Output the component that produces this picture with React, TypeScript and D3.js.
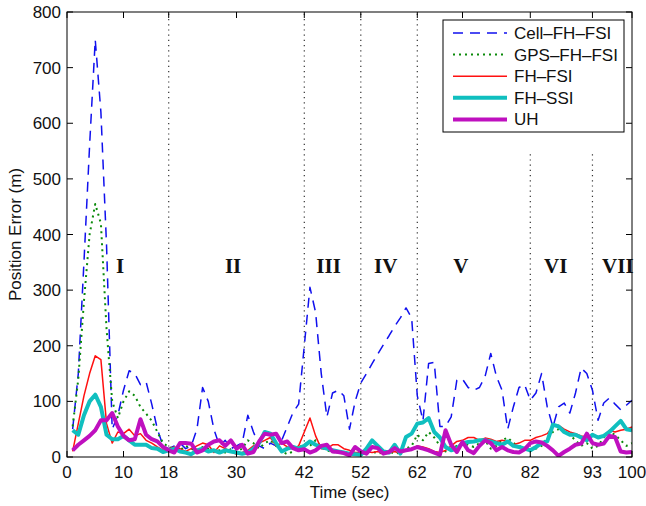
import React from "react";
import * as d3 from "d3";

const time = d3.range(1, 101);

const cellFHFSI = [50,150,350,560,750,620,380,50,75,120,155,150,130,135,95,50,20,15,20,25,15,20,50,125,100,50,20,30,15,20,25,75,45,20,15,25,20,30,55,80,95,200,305,260,150,72,115,120,110,50,100,133,150,168,185,202,218,235,250,268,250,110,65,168,170,55,55,72,138,140,125,120,125,145,186,145,120,50,90,125,130,102,115,150,90,54,90,97,79,115,160,150,120,66,97,106,95,85,93,102];
const gpsFHFSI = [55,140,280,400,455,420,230,100,70,100,118,110,90,78,65,45,25,18,15,12,20,15,10,18,15,10,12,8,14,10,15,30,25,15,25,30,20,10,5,10,15,25,20,30,18,12,8,10,5,8,6,5,8,10,6,8,10,6,8,15,20,40,30,45,35,20,10,15,20,25,22,18,25,30,15,20,30,35,25,20,15,10,15,20,35,45,50,45,40,30,20,25,15,20,35,45,40,30,20,25];
const fhFSI = [10,60,110,150,182,175,60,25,45,42,50,38,42,30,25,18,12,15,18,15,10,15,20,25,22,8,20,15,10,5,8,12,20,25,30,35,20,25,18,15,20,45,70,38,15,15,22,22,15,12,8,8,10,8,10,5,8,10,6,12,15,20,18,15,10,8,12,20,28,30,35,35,30,34,32,28,30,28,22,25,30,30,35,38,42,55,57,50,45,42,38,36,38,36,38,48,45,48,50,54];
const fhSSI = [48,40,75,100,112,90,40,32,32,38,30,22,22,22,16,15,9,12,15,10,8,5,12,15,10,12,8,12,10,8,6,8,15,25,45,42,25,10,15,18,15,20,28,22,18,15,12,10,8,6,5,4,15,30,20,10,8,22,6,36,42,60,62,70,45,35,18,12,15,25,27,28,30,30,28,25,22,28,20,18,15,12,18,25,28,58,55,45,40,40,35,30,40,35,38,45,55,65,50,48];
const uh = [12,22,30,38,48,66,66,79,55,38,30,32,68,40,32,28,18,12,8,25,25,24,8,12,22,28,30,20,30,15,22,6,9,28,42,40,42,25,28,16,12,14,8,12,20,22,10,9,7,3,18,10,6,18,16,6,9,16,10,12,14,18,15,12,8,4,48,22,9,27,12,7,20,30,25,12,18,12,9,8,14,25,28,26,20,12,2,9,15,22,24,42,25,22,24,38,36,10,8,9];

const seriesNames = ["Cell\u2013FH\u2013FSI", "GPS\u2013FH\u2013FSI", "FH\u2013FSI", "FH\u2013SSI", "UH"];
const seriesValues = [cellFHFSI, gpsFHFSI, fhFSI, fhSSI, uh];
const seriesColors = ["#1010ee", "#0a8a0a", "#ff1010", "#10bfbf", "#bf10bf"];
const seriesWidths = [1.5, 2, 1.5, 4, 4];
const seriesDash = ["10,7", "2,4", null, null, null];

const xTicks = [0, 10, 18, 30, 42, 52, 62, 70, 82, 93, 100];
const yTicks = [0, 100, 200, 300, 400, 500, 600, 700, 800];

const boundaryFull = [18, 42, 52, 62];
const boundaryPartial = [82, 93];
const partialTop = 546;

const phaseLabels = ["I", "II", "III", "IV", "V", "VI", "VII"];
const phaseCenters = [9.4, 29.4, 46.3, 56.4, 69.7, 86.5, 97.5];
const phaseLabelValue = 330;

const W = 646, H = 506;
const M = { left: 67, right: 14, top: 12, bottom: 49 };

export default function App() {
  const x = d3.scaleLinear().domain([0, 100]).range([M.left, W - M.right]);
  const y = d3.scaleLinear().domain([0, 800]).range([H - M.bottom, M.top]);
  const line = d3.line<number>().x((_, i) => x(time[i])).y((d) => y(d));
  const x0 = x(0), x1 = x(100), y0 = y(0), y1 = y(800);
  const tl = 6;
  const font = "'Liberation Sans', Arial, sans-serif";

  const legX = 443, legY = 20, legW = 181, legH = 112;

  return (
    <svg width={W} height={H} style={{ position: "absolute", left: 0, top: 0, background: "#fff" }}>
      <rect x={0} y={0} width={W} height={H} fill="#fff" />
      <defs>
        <clipPath id="plotclip">
          <rect x={x0} y={y1} width={x1 - x0} height={y0 - y1} />
        </clipPath>
      </defs>
      {boundaryFull.map((b) => (
        <line key={"bf" + b} x1={x(b)} x2={x(b)} y1={y0} y2={y1} stroke="#333" strokeWidth={1.2} strokeDasharray="1.2,4" />
      ))}
      {boundaryPartial.map((b) => (
        <line key={"bp" + b} x1={x(b)} x2={x(b)} y1={y0} y2={y(partialTop)} stroke="#333" strokeWidth={1.2} strokeDasharray="1.2,4" />
      ))}
      <g clipPath="url(#plotclip)">
        {seriesValues.map((vals, i) => (
          <path
            key={seriesNames[i]}
            d={line(vals) || ""}
            fill="none"
            stroke={seriesColors[i]}
            strokeWidth={seriesWidths[i]}
            strokeDasharray={seriesDash[i] || undefined}
            strokeLinejoin="round"
          />
        ))}
      </g>
      {phaseLabels.map((t, i) => (
        <text key={t} x={x(phaseCenters[i])} y={y(phaseLabelValue)} textAnchor="middle"
          fontFamily="'Liberation Serif', 'Times New Roman', serif" fontWeight="bold" fontSize={21} fill="#111">
          {t}
        </text>
      ))}
      <rect x={x0} y={y1} width={x1 - x0} height={y0 - y1} fill="none" stroke="#000" strokeWidth={1} />
      {xTicks.map((t) => (
        <g key={"xt" + t}>
          <line x1={x(t)} x2={x(t)} y1={y0} y2={y0 - tl} stroke="#000" />
          <line x1={x(t)} x2={x(t)} y1={y1} y2={y1 + tl} stroke="#000" />
          <text x={x(t)} y={y0 + 21} textAnchor="middle" fontFamily={font} fontSize={17} fill="#111">{t}</text>
        </g>
      ))}
      {yTicks.map((t) => (
        <g key={"yt" + t}>
          <line x1={x0} x2={x0 + tl} y1={y(t)} y2={y(t)} stroke="#000" />
          <line x1={x1} x2={x1 - tl} y1={y(t)} y2={y(t)} stroke="#000" />
          <text x={x0 - 6} y={y(t) + 6} textAnchor="end" fontFamily={font} fontSize={17} fill="#111">{t}</text>
        </g>
      ))}
      <text x={(x0 + x1) / 2} y={H - 8} textAnchor="middle" fontFamily={font} fontSize={17} fill="#111">Time (sec)</text>
      <text transform={`translate(21, ${(y0 + y1) / 2}) rotate(-90)`} textAnchor="middle" fontFamily={font} fontSize={17} fill="#111">Position Error (m)</text>
      <g>
        <rect x={legX} y={legY} width={legW} height={legH} fill="#fff" stroke="#000" strokeWidth={1} />
        {seriesNames.map((n, i) => {
          const cy = legY + 13 + i * 21.6;
          return (
            <g key={"lg" + n}>
              <line x1={legX + 10} x2={legX + 64} y1={cy} y2={cy} stroke={seriesColors[i]} strokeWidth={seriesWidths[i]} strokeDasharray={seriesDash[i] || undefined} />
              <text x={legX + 71} y={cy + 6} fontFamily={font} fontSize={17} fill="#111">{n}</text>
            </g>
          );
        })}
      </g>
    </svg>
  );
}
